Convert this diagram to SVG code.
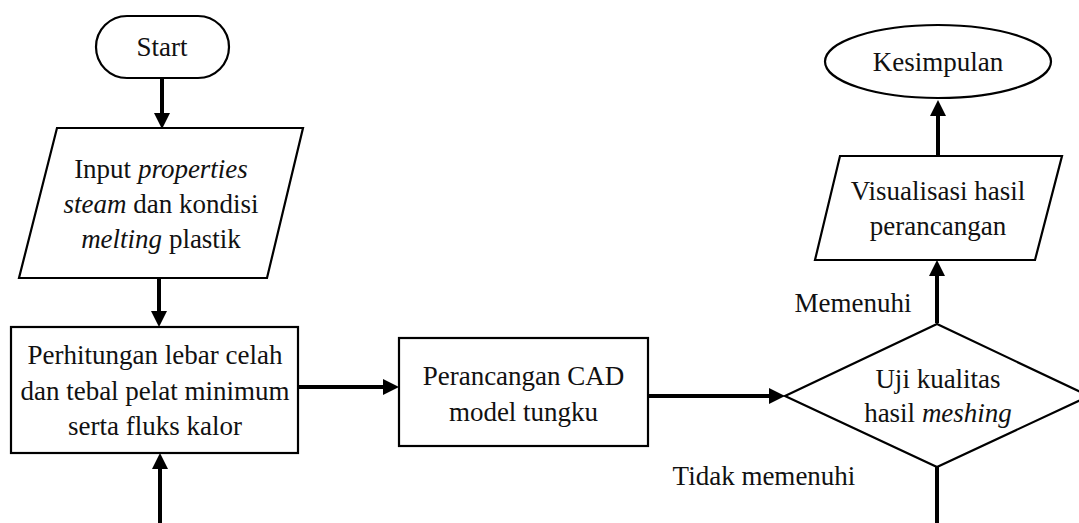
<svg xmlns="http://www.w3.org/2000/svg" width="1079" height="523" viewBox="0 0 1079 523">
<style>
.shape{fill:#fff;stroke:#000;stroke-width:2.2}
.t{font-family:"Liberation Serif","Times New Roman",serif;font-size:27px;fill:#111;text-anchor:middle}
.i{font-style:italic}
.c{stroke:#000;stroke-width:4;fill:none}
</style>
<defs>
<marker id="ah" markerUnits="userSpaceOnUse" markerWidth="16" markerHeight="16" refX="2" refY="8" orient="auto">
<path d="M0,0 L16,8 L0,16 z" fill="#000"/>
</marker>
</defs>
<rect width="1079" height="523" fill="#fff"/>
<g id="connectors">
<line class="c" x1="162" y1="78" x2="162" y2="115" marker-end="url(#ah)"/>
<line class="c" x1="159" y1="278" x2="159" y2="313" marker-end="url(#ah)"/>
<line class="c" x1="160" y1="523" x2="160" y2="467" marker-end="url(#ah)"/>
<line class="c" x1="298" y1="387" x2="385" y2="387" marker-end="url(#ah)"/>
<line class="c" x1="648" y1="396" x2="771" y2="396" marker-end="url(#ah)"/>
<line class="c" x1="937" y1="323" x2="937" y2="274" marker-end="url(#ah)"/>
<line class="c" x1="938" y1="156" x2="938" y2="114" marker-end="url(#ah)"/>
<line class="c" x1="937" y1="467" x2="937" y2="523"/>
<text class="t" x="853" y="312">Memenuhi</text>
<text class="t" x="764" y="485">Tidak memenuhi</text>
</g>
<g id="start">
<rect class="shape" x="96" y="16" width="133" height="62" rx="31" ry="31"/>
<text class="t" x="162" y="56">Start</text>
</g>
<g id="input">
<polygon class="shape" points="57,128 303,128 267,278 19,278"/>
<text class="t" x="161" y="178">Input <tspan class="i">properties</tspan></text>
<text class="t" x="161" y="213"><tspan class="i">steam</tspan> dan kondisi</text>
<text class="t" x="161" y="248"><tspan class="i">melting</tspan> plastik</text>
</g>
<g id="perhitungan">
<rect class="shape" x="11" y="327" width="287" height="126"/>
<text class="t" x="155" y="364">Perhitungan lebar celah</text>
<text class="t" x="155" y="400">dan tebal pelat minimum</text>
<text class="t" x="155" y="435">serta fluks kalor</text>
</g>
<g id="cad">
<rect class="shape" x="399" y="338" width="249" height="108"/>
<text class="t" x="523.5" y="385">Perancangan CAD</text>
<text class="t" x="523.5" y="421">model tungku</text>
</g>
<g id="uji">
<polygon class="shape" points="785,396 937,324 1089,396 937,467"/>
<text class="t" x="938" y="388">Uji kualitas</text>
<text class="t" x="938" y="422">hasil <tspan class="i">meshing</tspan></text>
</g>
<g id="visualisasi">
<polygon class="shape" points="840,156 1062,156 1035,260 815,260"/>
<text class="t" x="938" y="200">Visualisasi hasil</text>
<text class="t" x="938" y="235">perancangan</text>
</g>
<g id="kesimpulan">
<ellipse class="shape" cx="938" cy="61.5" rx="113" ry="36.5"/>
<text class="t" x="938" y="71">Kesimpulan</text>
</g>
</svg>
